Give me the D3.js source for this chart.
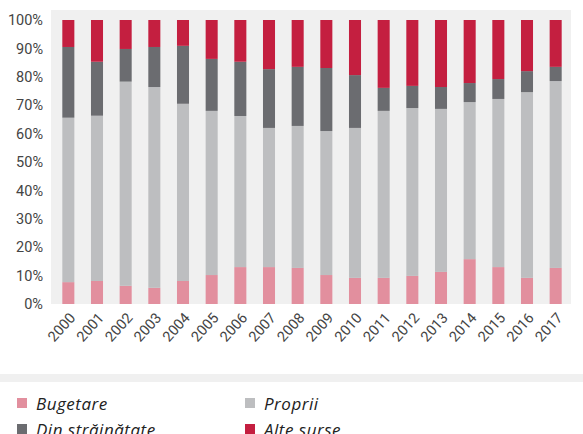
<!DOCTYPE html>
<html>
<head>
<meta charset="utf-8">
<script src="https://cdn.jsdelivr.net/npm/d3@7"></script>
<style>
  body { margin: 0; background: #fff; }
  svg { display: block; }
</style>
</head>
<body>
<svg id="chart" width="583" height="434"></svg>
<script>
// years on the x axis
let years = ["2000", "2001", "2002", "2003", "2004", "2005", "2006", "2007", "2008",
  "2009", "2010", "2011", "2012", "2013", "2014", "2015", "2016", "2017"];

// shares in %
let bugetare = [7.7, 8.1, 6.4, 5.7, 8.1, 10.2, 13.0, 13.0, 12.7, 10.2, 9.2, 9.2, 9.9, 11.3, 15.8, 13.0, 9.2, 12.7];
let proprii = [57.9, 58.2, 71.9, 70.7, 62.4, 57.8, 53.2, 49.0, 50.0, 50.7, 52.8, 58.8, 59.1, 57.4, 55.3, 59.2, 65.4, 65.8];
let dinStrainatate = [24.9, 19.0, 11.5, 14.1, 20.4, 18.3, 19.1, 20.7, 20.8, 22.2, 18.6, 8.1, 7.8, 7.7, 6.7, 7.0, 7.4, 5.0];
let alteSurse = [9.5, 14.7, 10.2, 9.5, 9.1, 13.7, 14.7, 17.3, 16.5, 16.9, 19.4, 23.9, 23.2, 23.6, 22.2, 20.8, 18.0, 16.5];

let seriesNames = ["Bugetare", "Proprii", "Din străinătate", "Alte surse"];
let seriesKeys = ["bugetare", "proprii", "din", "alte"];
let colors = ["#e28f9e", "#bdbec0", "#6b6c70", "#c41f40"];
let yTicks = [0, 10, 20, 30, 40, 50, 60, 70, 80, 90, 100];

let table = years.map(function(y, i) {
  return { year: y, bugetare: bugetare[i], proprii: proprii[i], din: dinStrainatate[i], alte: alteSurse[i] };
});

let svg = d3.select("#chart");

// plot background
let plotLeft = 51, plotRight = 571, plotTop = 10, plotBottom = 304;
svg.append("rect")
  .attr("x", plotLeft)
  .attr("y", plotTop)
  .attr("width", plotRight - plotLeft)
  .attr("height", plotBottom - plotTop)
  .attr("fill", "#f0f0f0");

let x = d3.scaleBand()
  .domain(years)
  .range([54, 570])
  .paddingInner(0.58)
  .paddingOuter(0.29);

let y = d3.scaleLinear()
  .domain([0, 100])
  .range([304, 20]);

let stack = d3.stack().keys(seriesKeys);
let layers = stack(table);

svg.append("g")
  .selectAll("g")
  .data(layers)
  .join("g")
  .attr("fill", function(d, i) { return colors[i]; })
  .selectAll("rect")
  .data(function(d) { return d; })
  .join("rect")
  .attr("x", function(d) { return x(d.data.year); })
  .attr("y", function(d) { return y(d[1]); })
  .attr("height", function(d) { return y(d[0]) - y(d[1]); })
  .attr("width", x.bandwidth());

// y axis labels
let yAxis = svg.append("g")
  .attr("transform", "translate(43,0)")
  .call(d3.axisLeft(y).tickValues(yTicks).tickSize(0).tickPadding(0)
    .tickFormat(function(d) { return d + "%"; }));
yAxis.select(".domain").remove();
yAxis.selectAll("text")
  .attr("fill", "#444")
  .style("font-family", "'Liberation Sans Narrow', 'Roboto', sans-serif")
  .style("font-size", "14.5px");

// x axis labels, rotated
let xAxis = svg.append("g")
  .attr("transform", "translate(0,306)")
  .call(d3.axisBottom(x).tickSize(0).tickPadding(0));
xAxis.select(".domain").remove();
xAxis.selectAll("text")
  .attr("fill", "#444")
  .style("font-family", "'Liberation Sans Narrow', 'Roboto', sans-serif")
  .style("font-size", "14.5px")
  .attr("text-anchor", "end")
  .attr("dy", "0.35em")
  .attr("transform", "translate(4,9) rotate(-48)");

// separator band above legend
svg.append("rect")
  .attr("x", 0)
  .attr("y", 374)
  .attr("width", 583)
  .attr("height", 8)
  .attr("fill", "#f0f0f0");

// legend: Bugetare, Proprii / Din străinătate, Alte surse
let legendPos = [[17, 398], [245, 398], [17, 424], [245, 424]];
let legend = svg.append("g")
  .selectAll("g")
  .data(seriesNames)
  .join("g")
  .attr("transform", function(d, i) {
    return "translate(" + legendPos[i][0] + "," + legendPos[i][1] + ")";
  });

legend.append("rect")
  .attr("width", 10)
  .attr("height", 10)
  .attr("fill", function(d, i) { return colors[i]; });

legend.append("text")
  .attr("x", 19)
  .attr("y", 12)
  .attr("fill", "#222")
  .style("font-family", "'Open Sans', sans-serif")
  .style("font-style", "italic")
  .style("font-size", "17px")
  .style("letter-spacing", "0.5px")
  .text(function(d) { return d; });
</script>
</body>
</html>
